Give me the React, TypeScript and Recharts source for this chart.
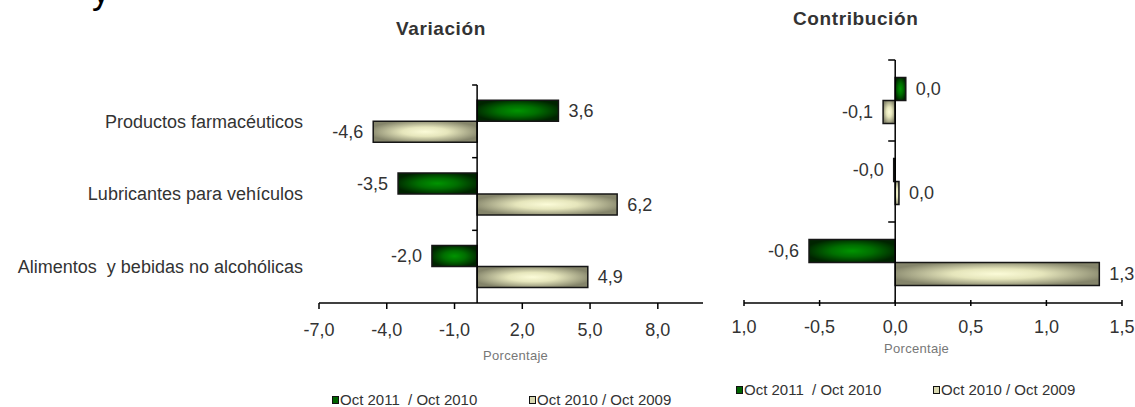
import { Bar, BarChart, LabelList, ReferenceLine, XAxis, YAxis } from "recharts"

// categories and series
const categories = [
  "Productos farmacéuticos",
  "Lubricantes para vehículos",
  "Alimentos  y bebidas no alcohólicas",
]
const seriesNames = ["Oct 2011  / Oct 2010", "Oct 2010 / Oct 2009"]

const variacion2011 = [3.6, -3.5, -2.0]
const variacion2010 = [-4.6, 6.2, 4.9]

const contribucion2011 = [0.07, -0.01, -0.57]
const contribucion2010 = [-0.08, 0.025, 1.35]
const contribucionLabels2011 = ["0,0", "-0,0", "-0,6"]
const contribucionLabels2010 = ["-0,1", "0,0", "1,3"]

const leftTicks = [-7, -4, -1, 2, 5, 8]
const leftTickLabels = ["-7,0", "-4,0", "-1,0", "2,0", "5,0", "8,0"]
const rightTicks = [-1, -0.5, 0, 0.5, 1, 1.5]
const rightTickLabels = ["1,0", "-0,5", "0,0", "0,5", "1,0", "1,5"]

const FONT = '"Liberation Sans", Arial, sans-serif'
const TEXT = "#333"
const X_AXIS_H = 30

const leftData = categories.map((name, i) => ({
  name,
  a: variacion2011[i],
  b: variacion2010[i],
}))
const rightData = categories.map((name, i) => ({
  name,
  a: contribucion2011[i],
  b: contribucion2010[i],
}))

// layout of the two plots (svg coords)
const L = { w: 720, h: 407, top: 85, bottom: 303, left: 319, right: 703, min: -7, max: 10 }
const R = { w: 415, h: 407, top: 60, bottom: 303, left: 24, right: 402, min: -1, max: 1.5 }
const zeroX = (c: typeof L) => c.left + ((0 - c.min) / (c.max - c.min)) * (c.right - c.left)
const band = (c: typeof L) => (c.bottom - c.top) / categories.length

const fmt = (v: number) => v.toFixed(1).replace(".", ",")

function Gradients() {
  return (
    <defs>
      <radialGradient id="gGreen" cx="50%" cy="50%" r="55%">
        <stop offset="0%" stopColor="#009400" />
        <stop offset="45%" stopColor="#006e00" />
        <stop offset="100%" stopColor="#002400" />
      </radialGradient>
      <radialGradient id="gBeige" cx="50%" cy="50%" r="55%">
        <stop offset="0%" stopColor="#fbfbd8" />
        <stop offset="40%" stopColor="#e6e6bc" />
        <stop offset="100%" stopColor="#84846a" />
      </radialGradient>
    </defs>
  )
}

const valueLabel = (texts?: string[]) => (props: any) => {
  const { x, y, width, height, value, index } = props
  const lo = Math.min(x, x + width)
  const hi = Math.max(x, x + width)
  const neg = Number(value) < 0
  return (
    <text
      x={neg ? lo - 10 : hi + 10}
      y={y + height / 2}
      dy="0.35em"
      textAnchor={neg ? "end" : "start"}
      fontSize={18}
      fontFamily={FONT}
      fill={TEXT}
    >
      {texts ? texts[index] : fmt(Number(value))}
    </text>
  )
}

function LeftXTick({ x, payload }: any) {
  const i = leftTicks.indexOf(payload.value)
  return (
    <g>
      <line x1={x} x2={x} y1={L.bottom} y2={L.bottom + 6} stroke="#000" strokeWidth={1.5} />
      <text x={x} y={330} dy="0.36em" textAnchor="middle" fontSize={18} fontFamily={FONT} fill={TEXT}>
        {leftTickLabels[i]}
      </text>
    </g>
  )
}

function RightXTick({ x, payload }: any) {
  const i = rightTicks.indexOf(payload.value)
  return (
    <g>
      <line x1={x} x2={x} y1={R.bottom - 3} y2={R.bottom + 3} stroke="#000" strokeWidth={1.5} />
      <text x={x} y={326.5} dy="0.36em" textAnchor="middle" fontSize={18} fontFamily={FONT} fill={TEXT}>
        {rightTickLabels[i]}
      </text>
    </g>
  )
}

function LeftYTick({ y, payload }: any) {
  const z = zeroX(L)
  const yb = y - band(L) / 2
  return (
    <g>
      <line x1={z - 5} x2={z} y1={yb} y2={yb} stroke="#000" strokeWidth={1.5} />
      <text x={303} y={y} dy="0.35em" textAnchor="end" fontSize={18} fontFamily={FONT} fill={TEXT} style={{ whiteSpace: "pre" }}>
        {payload.value}
      </text>
    </g>
  )
}

function RightYTick({ y }: any) {
  const z = zeroX(R)
  const yb = y - band(R) / 2
  return <line x1={z - 7} x2={z} y1={yb} y2={yb} stroke="#000" strokeWidth={1.5} />
}

function LegendRow({ left, top }: { left: number; top: number }) {
  const swatches = ["#006400", "#d8d8b0"]
  const offsets = [0, 197]
  return (
    <>
      {seriesNames.map((s, i) => (
        <div
          key={s}
          style={{
            position: "absolute",
            left: left + offsets[i],
            top,
            display: "flex",
            alignItems: "center",
            fontSize: 15,
            color: TEXT,
            whiteSpace: "pre",
            lineHeight: "12px",
          }}
        >
          <span style={{ width: 5, height: 6, border: "1px solid #111", background: swatches[i], marginRight: 1 }} />
          {s}
        </div>
      ))}
    </>
  )
}

export default function App() {
  return (
    <div
      style={{
        position: "absolute",
        left: 0,
        top: 0,
        width: 1135,
        height: 407,
        overflow: "hidden",
        background: "#fff",
        fontFamily: FONT,
      }}
    >
      <div style={{ position: "absolute", left: 92, top: -27, fontSize: 36, lineHeight: "36px", color: "#000" }}>y</div>

      <div style={{ position: "absolute", left: 0, top: 0 }}>
        <BarChart
          width={L.w}
          height={L.h}
          data={leftData}
          layout="vertical"
          margin={{ top: L.top, right: L.w - L.right, bottom: L.h - L.bottom - X_AXIS_H, left: 0 }}
          barCategoryGap="21%"
          barGap={0}
        >
          <Gradients />
          <XAxis
            type="number"
            domain={[L.min, L.max]}
            ticks={leftTicks}
            interval={0}
            height={X_AXIS_H}
            axisLine={{ stroke: "#000", strokeWidth: 1.5 }}
            tickLine={false}
            tick={<LeftXTick />}
          />
          <YAxis
            type="category"
            dataKey="name"
            width={L.left}
            interval={0}
            axisLine={false}
            tickLine={false}
            tick={<LeftYTick />}
          />
          <Bar dataKey="a" fill="url(#gGreen)" stroke="#161616" strokeWidth={1.5} isAnimationActive={false}>
            <LabelList dataKey="a" content={valueLabel()} />
          </Bar>
          <Bar dataKey="b" fill="url(#gBeige)" stroke="#161616" strokeWidth={1.5} isAnimationActive={false}>
            <LabelList dataKey="b" content={valueLabel()} />
          </Bar>
          <ReferenceLine x={0} stroke="#000" strokeWidth={1.5} />
        </BarChart>
      </div>

      <div style={{ position: "absolute", left: 720, top: 0 }}>
        <BarChart
          width={R.w}
          height={R.h}
          data={rightData}
          layout="vertical"
          margin={{ top: R.top, right: R.w - R.right, bottom: R.h - R.bottom - X_AXIS_H, left: 0 }}
          barCategoryGap="21.5%"
          barGap={0}
        >
          <Gradients />
          <XAxis
            type="number"
            domain={[R.min, R.max]}
            ticks={rightTicks}
            interval={0}
            height={X_AXIS_H}
            axisLine={{ stroke: "#000", strokeWidth: 1.5 }}
            tickLine={false}
            tick={<RightXTick />}
          />
          <YAxis
            type="category"
            dataKey="name"
            width={R.left}
            interval={0}
            axisLine={false}
            tickLine={false}
            tick={<RightYTick />}
          />
          <Bar dataKey="a" fill="url(#gGreen)" stroke="#161616" strokeWidth={1.5} isAnimationActive={false}>
            <LabelList dataKey="a" content={valueLabel(contribucionLabels2011)} />
          </Bar>
          <Bar dataKey="b" fill="url(#gBeige)" stroke="#161616" strokeWidth={1.5} isAnimationActive={false}>
            <LabelList dataKey="b" content={valueLabel(contribucionLabels2010)} />
          </Bar>
          <ReferenceLine x={0} stroke="#000" strokeWidth={1.5} />
        </BarChart>
      </div>

      <div style={{ position: "absolute", left: 396, top: 18, fontSize: 19, fontWeight: 700, letterSpacing: 0.6, color: TEXT }}>
        Variación
      </div>
      <div style={{ position: "absolute", left: 793, top: 8, fontSize: 19, fontWeight: 700, letterSpacing: 0.6, color: TEXT }}>
        Contribución
      </div>

      <div style={{ position: "absolute", left: 483, top: 348, fontSize: 13, color: "#777", letterSpacing: 0.3 }}>Porcentaje</div>
      <div style={{ position: "absolute", left: 884, top: 341, fontSize: 13, color: "#777", letterSpacing: 0.3 }}>Porcentaje</div>

      <LegendRow left={332} top={394} />
      <LegendRow left={736} top={384} />
    </div>
  )
}
